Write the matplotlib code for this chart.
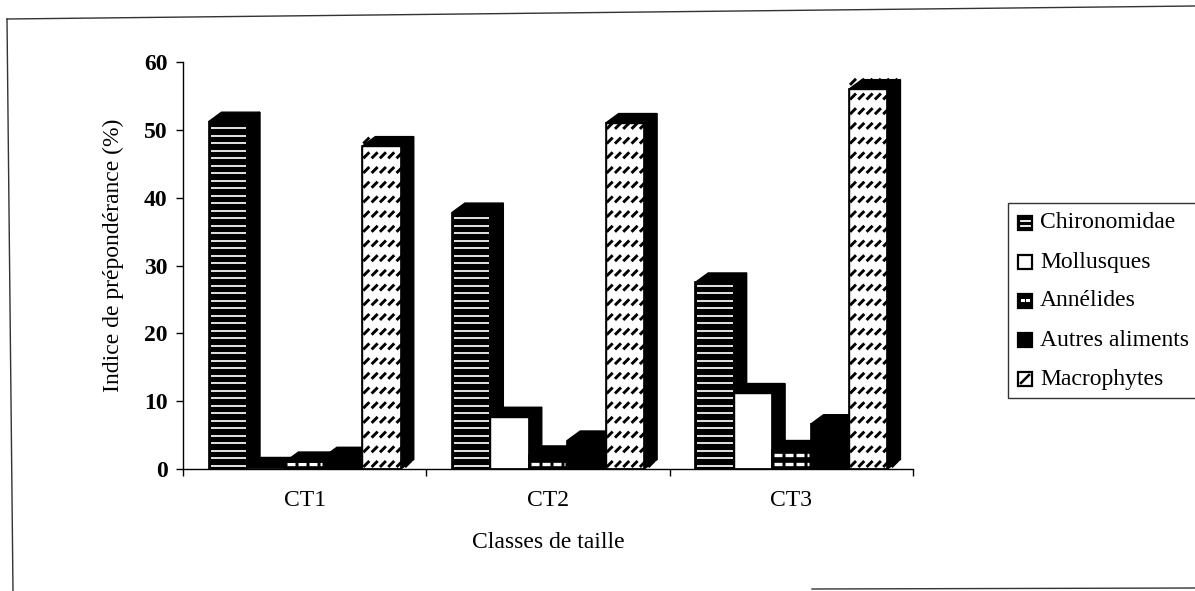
import matplotlib
matplotlib.use("Agg")
import matplotlib.pyplot as plt
from matplotlib.patches import Polygon, Rectangle
from matplotlib.collections import LineCollection
from matplotlib.lines import Line2D
from matplotlib.transforms import IdentityTransform
import numpy as np

# ---- data -------------------------------------------------------------
categories = ["CT1", "CT2", "CT3"]
series_names = ["Chironomidae", "Mollusques", "Annélides", "Autres aliments", "Macrophytes"]
chironomidae = [51.2, 37.8, 27.5]
mollusques = [0.3, 7.7, 11.2]
annelides = [1.1, 2.0, 2.8]
autres_aliments = [1.8, 4.2, 6.6]
macrophytes = [47.6, 51.0, 56.0]
y_ticks = [0, 10, 20, 30, 40, 50, 60]
x_title = "Classes de taille"
y_title = "Indice de prépondérance (%)"

series_values = [chironomidae, mollusques, annelides, autres_aliments, macrophytes]
series_styles = ["stripes", "plain", "bricks", "solid", "dashes"]

# ---- figure -----------------------------------------------------------
W, H, DPI = 1195, 591, 100
FONT = "Liberation Serif"
FS = 17
plt.rcParams["font.family"] = [FONT, "DejaVu Serif"]

fig = plt.figure(figsize=(W / DPI, H / DPI), dpi=DPI)
fig.patch.set_facecolor("white")
ID = IdentityTransform()


def P(x, y_top):
    """pixel position measured from the top-left corner -> display coords"""
    return (x, H - y_top)


AX_L, AX_R, AX_B, AX_T = 183, 913, 469, 62
ax = fig.add_axes([AX_L / W, (H - AX_B) / H, (AX_R - AX_L) / W, (AX_B - AX_T) / H])
ax.set_xlim(-0.5, len(categories) - 0.5)
ax.set_ylim(0, 60)
ax.patch.set_alpha(0)
for s in ("top", "right"):
    ax.spines[s].set_visible(False)
for s in ("left", "bottom"):
    ax.spines[s].set_linewidth(1.0)
    ax.spines[s].set_color("black")

ax.set_yticks(y_ticks)
ax.set_yticklabels([str(t) for t in y_ticks], fontsize=FS, fontweight="bold")
ax.tick_params(axis="y", direction="out", length=5, width=1, pad=6)

ax.set_xticks(np.arange(len(categories) + 1) - 0.5)
ax.set_xticklabels([])
ax.set_xticks(np.arange(len(categories)), minor=True)
ax.set_xticklabels(categories, minor=True, fontsize=FS)
ax.tick_params(axis="x", which="major", direction="out", length=5, width=1)
ax.tick_params(axis="x", which="minor", length=0, pad=15)

fig.text(548 / W, 1 - 543 / H, x_title, fontsize=FS, ha="center", va="center")
fig.text(113 / W, 1 - 255 / H, y_title, fontsize=FS, ha="center", va="center",
         rotation=90)

# ---- 3-D columns --------------------------------------------------------
BW = 0.158          # column width (category units)
DX, DY = 13.0, 9.5  # depth offset of the back faces, pixels


def pattern_segments(style, x0, x1, y0, y1):
    """line segments (display coords) that texture a front face"""
    segs, color, lw = [], "white", 1.2
    if style == "stripes":
        y = y0 + 3.5
        while y < y1 - 2:
            segs.append([(x0 + 2, y), (x1 - 1, y)])
            y += 7.5
        color, lw = "white", 1.25
    elif style == "bricks":
        y = y0 + 5
        while y < y1 - 1:
            x = x0 + 2
            while x < x1 - 2:
                segs.append([(x, y), (min(x + 8, x1 - 2), y)])
                x += 11
            y += 9
        color, lw = "white", 2.4
    elif style == "dashes":
        y = y0 + 2
        while y < y1 + 8:
            x = x0 + 1
            while x < x1 + 6:
                segs.append([(x, y), (x + 6, y + 6)])
                x += 8.3
            y += 14.7
        color, lw = "black", 2.1
    return segs, color, lw


for j, (vals, style) in enumerate(zip(series_values, series_styles)):
    for i, v in enumerate(vals):
        xc = i + (j - 2) * BW
        z = 2 + j * 0.1
        front_fc = "black" if style in ("stripes", "bricks", "solid") else "white"
        bar = ax.bar(xc, v, width=BW, color=front_fc, edgecolor="black",
                     linewidth=1.0, zorder=z + 0.05)[0]
        (xl, yb), (xr, yt) = ax.transData.transform([(xc - BW / 2, 0), (xc + BW / 2, v)])
        side = Polygon([(xr, yb), (xr, yt), (xr + DX, yt + DY), (xr + DX, yb + DY)],
                       closed=True, facecolor="black", edgecolor="black",
                       linewidth=1.0, transform=ID, zorder=z)
        top = Polygon([(xl, yt), (xr, yt), (xr + DX, yt + DY), (xl + DX, yt + DY)],
                      closed=True, facecolor="black", edgecolor="black",
                      linewidth=1.0, transform=ID, zorder=z)
        ax.add_artist(side)
        ax.add_artist(top)
        segs, col, lw = pattern_segments(style, xl, xr, yb, yt)
        if segs:
            lc = LineCollection(segs, colors=col, linewidths=lw, transform=ID,
                                zorder=z + 0.06, capstyle="butt")
            lc.set_clip_path(bar)
            ax.add_collection(lc)
        ax.add_patch(Rectangle((xc - BW / 2, 0), BW, v, facecolor="none",
                               edgecolor="black", linewidth=1.2, zorder=z + 0.07))

# ---- legend -------------------------------------------------------------
LEG_L, LEG_T, LEG_B = 1008, 203, 398
fig.add_artist(Rectangle(P(LEG_L, LEG_B), W + 10 - LEG_L, LEG_B - LEG_T,
                         facecolor="white", edgecolor="#333333", linewidth=1.0,
                         transform=ID, zorder=5))
ICON = 14
for k, (name, style) in enumerate(zip(series_names, series_styles)):
    cy = 223 + 39 * k
    ix, iy = P(1018, cy + ICON / 2)
    fc = "black" if style in ("stripes", "bricks", "solid") else "white"
    fig.add_artist(Rectangle((ix, iy), ICON, ICON, facecolor=fc, edgecolor="black",
                             linewidth=1.6, transform=ID, zorder=6))
    if style == "stripes":
        for yy in (iy + 4.5, iy + 9.5):
            fig.add_artist(Line2D([ix + 2.5, ix + ICON - 2.5], [yy, yy], color="white",
                                  linewidth=1.3, transform=ID, zorder=7))
    elif style == "bricks":
        for xx in (ix + 2.5, ix + 8):
            fig.add_artist(Rectangle((xx, iy + 6), 4, 3, facecolor="white",
                                     edgecolor="none", transform=ID, zorder=7))
    elif style == "dashes":
        fig.add_artist(Line2D([ix + 3, ix + ICON - 3], [iy + 3, iy + ICON - 3],
                              color="black", linewidth=1.8, transform=ID, zorder=7))
    fig.text(1040 / W, 1 - cy / H, name, fontsize=FS, ha="left", va="center",
             zorder=7)

# ---- outer frame --------------------------------------------------------
frame = [((7, 19), (W, 6)), ((7, 19), (13, H)), ((812, 589), (W, 588))]
for (x0, y0), (x1, y1) in frame:
    fig.add_artist(Line2D([x0, x1], [H - y0, H - y1], color="#333333",
                          linewidth=1.0, transform=ID))

fig.savefig("out.png", dpi=DPI, facecolor="white")
